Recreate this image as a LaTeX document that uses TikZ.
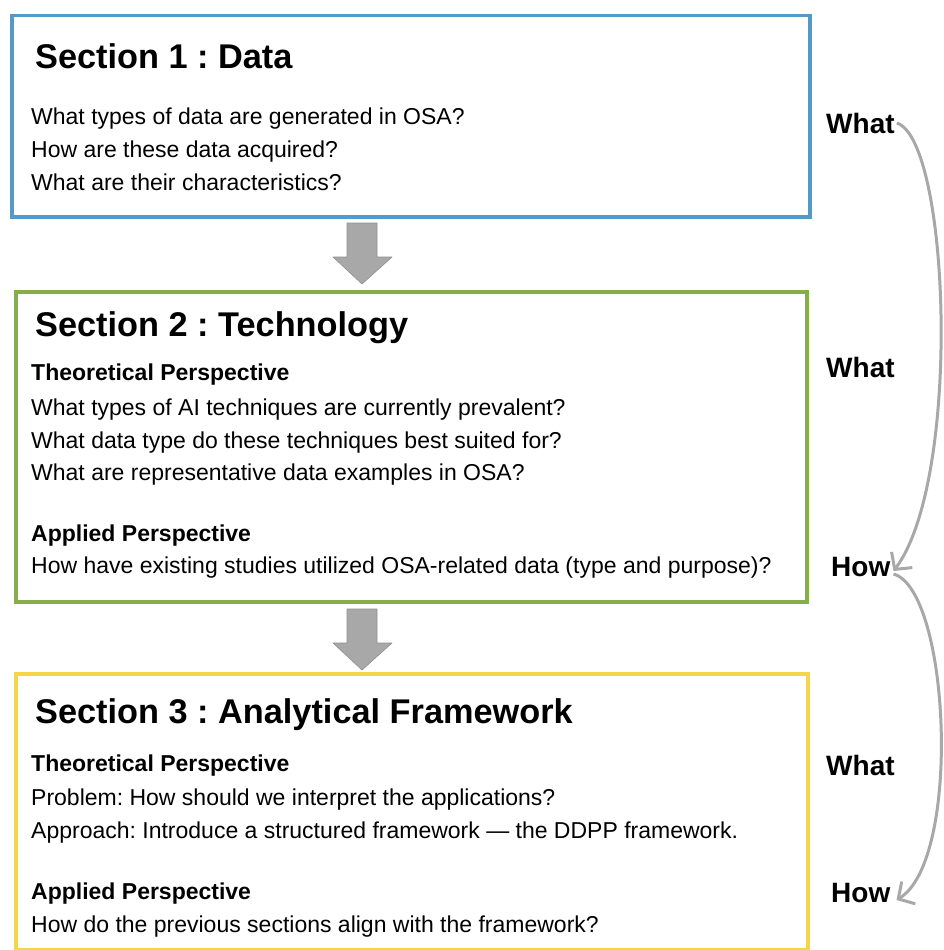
\documentclass[tikz,border=0pt]{standalone}
\usepackage{fontspec}
\setmainfont{Liberation Sans}
\usetikzlibrary{arrows.meta}
\frenchspacing
\definecolor{boxblue}{HTML}{5599C8}
\definecolor{boxgreen}{HTML}{86AD48}
\definecolor{boxyellow}{HTML}{F3D748}
\definecolor{flowgray}{HTML}{A8A8A8}
\tikzset{
  secbox/.style={draw=#1, line width=3.5pt, rectangle, inner sep=0pt, anchor=north west},
  title/.style={anchor=base west, inner sep=0pt, font=\fontsize{34.3}{40}\selectfont\bfseries},
  sub/.style={anchor=base west, inner sep=0pt, font=\fontsize{23}{27}\selectfont\bfseries},
  body/.style={anchor=base west, inner sep=0pt, font=\fontsize{23}{27}\selectfont},
  side/.style={anchor=base west, inner sep=0pt, font=\fontsize{28}{33}\selectfont\bfseries},
  blockarrow/.style={fill=flowgray, draw=flowgray!85!black, line width=0.6pt, line join=round},
  loop/.style={draw=flowgray, line width=3pt, -{Straight Barb[length=12pt, width=26pt, line width=3pt]}}
}
\begin{document}
\begin{tikzpicture}[x=1pt, y=-1pt]
\useasboundingbox (0,0) rectangle (943,950);

% section boxes
\node[secbox=boxblue, minimum width=798pt, minimum height=201pt] (b1) at (10,14) {};
\node[secbox=boxgreen, minimum width=791pt, minimum height=310pt] (b2) at (14,290) {};
\node[secbox=boxyellow, minimum width=792pt, minimum height=276pt] (b3) at (14,672) {};

% section 1
\node[title] (t1) at (35,68) {Section 1 : Data};
\node[body] (l11) at (31,124) {What types of data are generated in OSA?};
\node[body] (l12) at (31,157) {How are these data acquired?};
\node[body] (l13) at (31,190) {What are their characteristics?};

% section 2
\node[title] (t2) at (35,336) {Section 2 : Technology};
\node[sub] (s21) at (31,380) {Theoretical Perspective};
\node[body] (l21) at (31,415) {What types of AI techniques are currently prevalent?};
\node[body] (l22) at (31,448) {What data type do these techniques best suited for?};
\node[body] (l23) at (31,480) {What are representative data examples in OSA?};
\node[sub] (s22) at (31,541) {Applied Perspective};
\node[body] (l24) at (31,573) {How have existing studies utilized OSA-related data (type and purpose)?};

% section 3
\node[title] (t3) at (35,723) {Section 3 : Analytical Framework};
\node[sub] (s31) at (31,771) {Theoretical Perspective};
\node[body] (l31) at (31,805) {Problem: How should we interpret the applications?};
\node[body] (l32) at (31,838) {Approach: Introduce a structured framework — the DDPP framework.};
\node[sub] (s32) at (31,899) {Applied Perspective};
\node[body] (l33) at (31,932) {How do the previous sections align with the framework?};

% side labels
\node[side] (w1) at (826,133) {What};
\node[side] (w2) at (826,377) {What};
\node[side] (h1) at (831,576) {How};
\node[side] (w3) at (826,775) {What};
\node[side] (h2) at (831,902) {How};

% block arrows between sections
\path[blockarrow] (347,223) -- (377,223) -- (377,257) -- (392,257) -- (362,284)
  -- (333,257) -- (347,257) -- cycle;
\path[blockarrow] (347,609) -- (377,609) -- (377,643) -- (392,643) -- (362,670)
  -- (333,643) -- (347,643) -- cycle;

% what/how loops
\coordinate (w1e) at ([xshift=2pt,yshift=10pt]w1.base east);
\coordinate (h1e) at ([xshift=3pt,yshift=5pt]h1.base east);
\coordinate (h1s) at ([xshift=3pt,yshift=2pt]h1.base east);
\coordinate (h2e) at ([xshift=6pt,yshift=2pt]h2.base east);
\draw[loop] (w1e) .. controls (950,140) and (962,480) .. (h1e);
\draw[loop] (h1s) .. controls (950,590) and (962,860) .. (h2e);
\end{tikzpicture}
\end{document}
